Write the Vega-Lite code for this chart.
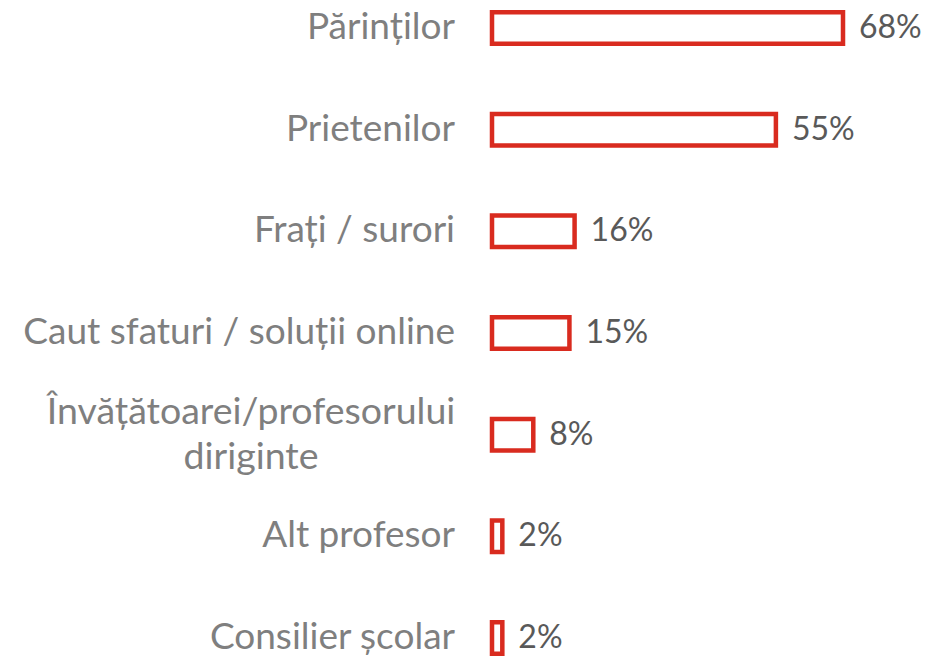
{
  "$schema": "https://vega.github.io/schema/vega-lite/v6.json",
  "autosize": "none",
  "width": 400,
  "height": 666,
  "padding": {"left": 492, "top": 0, "right": 46, "bottom": 0},
  "background": "white",
  "config": {"view": {"stroke": null}, "font": "Lato"},
  "data": {
    "values": [
      {"cat": "Părinților", "value": 68, "label": "68%", "multi": false},
      {"cat": "Prietenilor", "value": 55, "label": "55%", "multi": false},
      {"cat": "Frați / surori", "value": 16, "label": "16%", "multi": false},
      {"cat": "Caut sfaturi / soluții online", "value": 15, "label": "15%", "multi": false},
      {"cat": "Învățătoarei/profesorului\ndiriginte", "value": 8, "label": "8%", "multi": true},
      {"cat": "Alt profesor", "value": 2, "label": "2%", "multi": false},
      {"cat": "Consilier școlar", "value": 2, "label": "2%", "multi": false}
    ]
  },
  "encoding": {
    "y": {
      "field": "cat",
      "type": "nominal",
      "sort": null,
      "scale": {"paddingInner": 0.69, "paddingOuter": 0.12},
      "axis": null
    },
    "x": {
      "field": "value",
      "type": "quantitative",
      "scale": {"domain": [0, 68], "range": [0, 351]},
      "axis": null
    }
  },
  "layer": [
    {
      "mark": {"type": "bar", "fill": "white", "stroke": "#d92b1f", "strokeWidth": 4.5, "cornerRadius": 0}
    },
    {
      "mark": {"type": "text", "align": "left", "baseline": "middle", "dx": 16, "font": "Lato", "fontSize": 32, "color": "#595959"},
      "encoding": {"text": {"field": "label"}}
    },
    {
      "transform": [{"filter": "!datum.multi"}],
      "mark": {"type": "text", "align": "right", "baseline": "middle", "dx": -37, "font": "Lato", "fontSize": 37, "color": "#7f7f7f"},
      "encoding": {"x": {"datum": 0}, "text": {"field": "cat"}}
    },
    {
      "transform": [{"filter": "datum.multi"}],
      "mark": {"type": "text", "align": "center", "baseline": "middle", "dx": -241, "dy": -22, "lineBreak": "\n", "lineHeight": 45, "font": "Lato", "fontSize": 37.5, "color": "#7f7f7f"},
      "encoding": {"x": {"datum": 0}, "text": {"field": "cat"}}
    }
  ]
}
